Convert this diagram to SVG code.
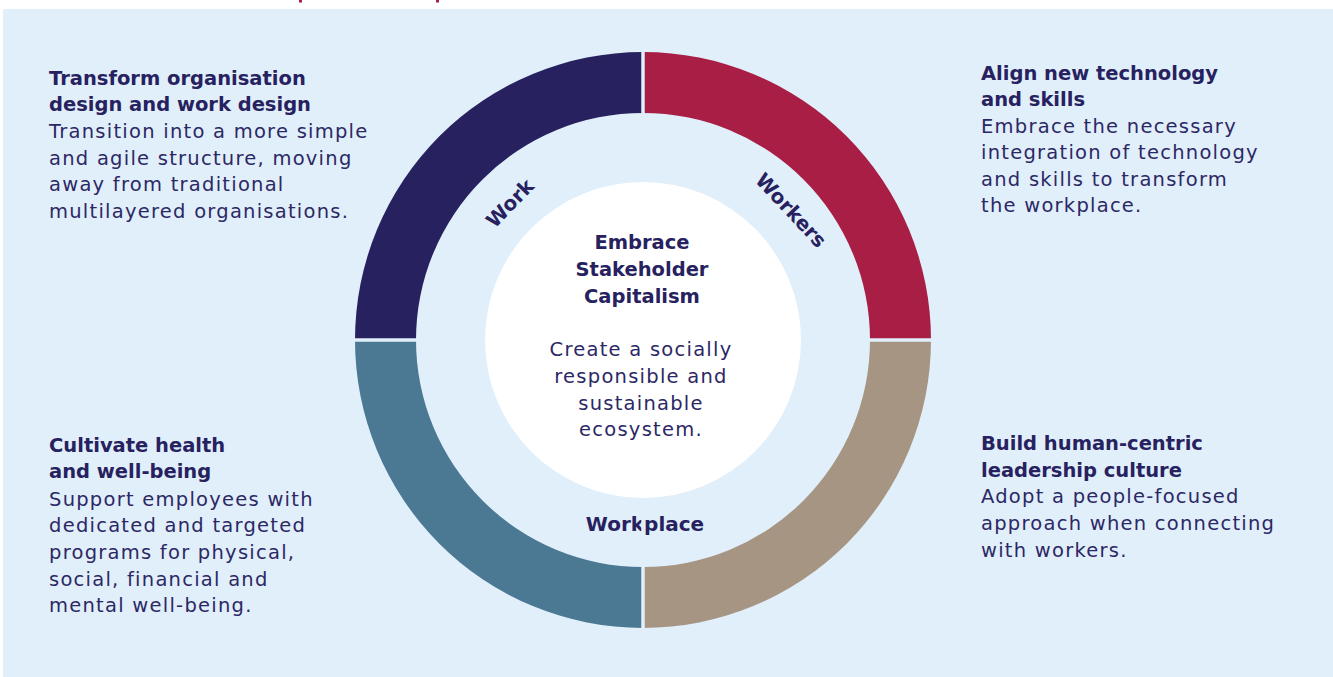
<svg xmlns="http://www.w3.org/2000/svg" width="1333" height="677" viewBox="0 0 1333 677">
  <style>
    .head { font-family: "DejaVu Sans", "Liberation Sans", sans-serif; font-weight: bold; font-size: 19.5px; fill: #27225f; }
    .body { font-family: "DejaVu Sans", "Liberation Sans", sans-serif; font-size: 19.5px; letter-spacing: 1.25px; fill: #2c2865; }
    .ring-label { font-family: "DejaVu Sans", "Liberation Sans", sans-serif; font-weight: bold; font-size: 20px; fill: #27225f; }
    .mid { text-anchor: middle; }
    .sep { stroke: #e1effa; stroke-width: 3.5; }
  </style>

  <!-- page -->
  <rect x="0" y="0" width="1333" height="677" fill="#ffffff"/>
  <rect x="3" y="9" width="1330" height="668" fill="#e1effa"/>
  <!-- clipped fragments of the title line above the panel -->
  <rect x="299" y="0" width="3" height="2.5" fill="#a81e45"/>
  <rect x="436" y="0" width="3" height="2.5" fill="#a81e45"/>

  <!-- ring quadrants, centre (643,340), outer r 288, inner r 227 -->
  <g id="work">
    <path d="M355,340 A288,288 0 0 1 643,52 L643,113 A227,227 0 0 0 416,340 Z" fill="#27215f"/>
    <text class="ring-label mid" x="515" y="208" transform="rotate(-46 515 208)">Work</text>
  </g>
  <g id="workers">
    <path d="M643,52 A288,288 0 0 1 931,340 L870,340 A227,227 0 0 0 643,113 Z" fill="#a81e45"/>
    <text class="ring-label mid" x="786" y="215" transform="rotate(47 786 215)">Workers</text>
  </g>
  <g id="leadership">
    <path d="M931,340 A288,288 0 0 1 643,628 L643,567 A227,227 0 0 0 870,340 Z" fill="#a69583"/>
  </g>
  <g id="workplace">
    <path d="M643,628 A288,288 0 0 1 355,340 L416,340 A227,227 0 0 0 643,567 Z" fill="#4b7892"/>
    <text class="ring-label mid" x="645" y="531">Workplace</text>
  </g>

  <!-- gaps between quadrants -->
  <g id="connectors">
    <line class="sep" x1="350" y1="340" x2="936" y2="340"/>
    <line class="sep" x1="643" y1="46" x2="643" y2="634"/>
  </g>

  <!-- centre disc -->
  <g id="centre">
    <circle cx="643" cy="340" r="158" fill="#ffffff"/>
    <text class="head mid" x="642" y="249">Embrace</text>
    <text class="head mid" x="642" y="276">Stakeholder</text>
    <text class="head mid" x="642" y="303">Capitalism</text>
    <text class="body mid" x="641" y="356">Create a socially</text>
    <text class="body mid" x="641" y="383">responsible and</text>
    <text class="body mid" x="641" y="409.5">sustainable</text>
    <text class="body mid" x="641" y="436">ecosystem.</text>
  </g>

  <!-- side captions -->
  <g id="caption-work">
    <text class="head" x="49" y="84.5">Transform organisation</text>
    <text class="head" x="49" y="111">design and work design</text>
    <text class="body" x="49" y="138">Transition into a more simple</text>
    <text class="body" x="49" y="164.7">and agile structure, moving</text>
    <text class="body" x="49" y="191.4">away from traditional</text>
    <text class="body" x="49" y="218">multilayered organisations.</text>
  </g>

  <g id="caption-workers">
    <text class="head" x="981" y="79.5">Align new technology</text>
    <text class="head" x="981" y="106.3">and skills</text>
    <text class="body" x="981" y="132.5">Embrace the necessary</text>
    <text class="body" x="981" y="159.2">integration of technology</text>
    <text class="body" x="981" y="185.8">and skills to transform</text>
    <text class="body" x="981" y="212.4">the workplace.</text>
  </g>

  <g id="caption-workplace">
    <text class="head" x="49" y="451.7">Cultivate health</text>
    <text class="head" x="49" y="478.3">and well-being</text>
    <text class="body" x="49" y="505.5">Support employees with</text>
    <text class="body" x="49" y="532.2">dedicated and targeted</text>
    <text class="body" x="49" y="558.9">programs for physical,</text>
    <text class="body" x="49" y="585.6">social, financial and</text>
    <text class="body" x="49" y="612.2">mental well-being.</text>
  </g>

  <g id="caption-leadership">
    <text class="head" x="981" y="450">Build human-centric</text>
    <text class="head" x="981" y="476.7">leadership culture</text>
    <text class="body" x="981" y="503.3">Adopt a people-focused</text>
    <text class="body" x="981" y="530">approach when connecting</text>
    <text class="body" x="981" y="556.7">with workers.</text>
  </g>
</svg>
